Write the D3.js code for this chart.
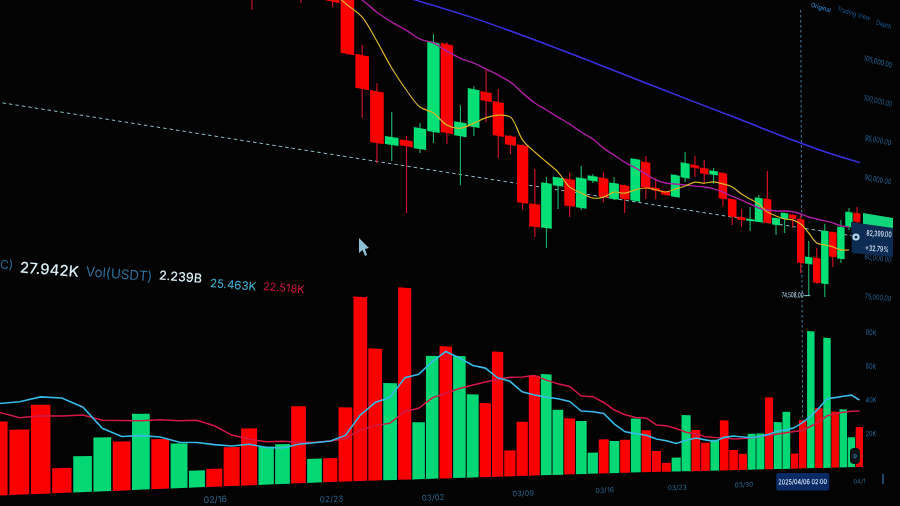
<!DOCTYPE html>
<html>
<head>
<meta charset="utf-8">
<script src="https://cdn.jsdelivr.net/npm/d3@7/dist/d3.min.js"></script>
<style>
html,body{margin:0;padding:0;background:#030303;overflow:hidden}
svg{display:block;filter:blur(0.5px)}
text{font-family:Inter,Roboto,sans-serif}
</style>
</head>
<body>
<svg id="c" width="900" height="506"></svg>
<script>
// ---------- volume pane data (thousands), bars 1..68 ----------
const volumes=[26.5,23.5,32.5,9.2,13.4,20.3,18.6,29.1,19.3,17.5,6.7,7.1,15.6,23.0,15.5,16.4,31.9,10.0,
10.1,31.5,78.9,57.0,42.2,84.3,25.2,54.8,59.3,55.2,37.9,34.0,57.9,12.1,25.4,47.3,48.1,31.2,27.1,25.8,10.3,16.8,15.9,16.5,27.2,21.3,10.7,4.6,7.2,29.2,21.5,14.8,16.4,26.7,10.8,8.7,19.6,19.7,39.6,26.0,31.8,8.4,27.1,77.7,34.2,74.6,32.3,33.7,17.5,23.5];
const volDirs="rrrrggrgrggrrrggrg"+"rrrrgrggrggrrrrrggrggrgrgrrrggrrgrrrggrggrrgrgrggr";
const volMaFast=[32.9,33.6,35.4,35.0,31.6,23.7,20.5,20.7,20.1,17.9,17.7,16.7,16.0,16.6,15.1,14.8,16.2,16.7,17.3,19.6,28.3,33.7,36.1,44.8,46.4,52.2,57.0,54.3,51.1,50.1,45.8,44.3,39.5,38.1,37.2,36.5,35.3,30.7,30.4,29.6,24.3,20.5,19.6,18.8,16.8,15.9,14.5,16.1,17.3,16.3,15.4,17.6,18.3,17.8,17.4,18.1,19.3,21.1,21.7,23.0,26.0,29.5,34.2,39.6,40.4,41.3,42.1,39.4];
const volMaSlow=[30.0,27.8,28.5,28.4,28.7,26.7,26.6,26.4,26.7,26.3,26.4,24.2,20.4,18.6,17.5,17.5,17.0,16.9,17.3,18.3,21.9,23.8,24.8,29.9,31.4,36.1,38.2,40.5,42.2,43.7,45.1,46.2,46.5,47.3,45.3,43.7,42.5,38.0,37.8,35.0,31.3,29.0,27.7,27.4,24.0,23.6,22.2,20.3,19.4,17.9,17.5,17.4,16.7,17.0,17.4,18.1,18.7,19.4,20.1,20.8,21.4,23.8,26.3,29.8,31.2,32.0,32.7,32.9];

// ---------- candles, starting at bar 14 ----------
const candleStart=14;
const opens=[96800,97300,97800,97800,97800,98000,98200,92730,89670,84915,85580,84940,86760,95410,86790,87890,91530,90780,87620,86930,81180,78890,83330,84220,81400,84375,84860,82805,84455,82925,87300,84675,84490,83990,86255,87880,87720,87135,87535,84730,82810,82490,82520,85360,82445,83300,83940,83580,78285,79125,76075,82570,79365,83460,85350];
const closes=[95950,98000,98500,97000,98500,97000,92560,89620,84880,85660,85020,86920,95330,86870,88140,91590,90650,87420,86720,81115,78860,83470,84200,81430,84520,84900,82860,84500,82960,87440,84490,84350,84050,86415,87920,87545,87050,87590,84575,82670,82470,82725,85320,82540,83270,84010,83460,78290,79130,76085,82560,79500,83325,85330,84225];
const highs=[97500,98500,99000,98500,99000,98500,99000,93650,90410,87980,85950,87400,96090,95600,89780,91885,93790,92060,87700,87000,84715,84080,84250,84840,85760,85100,85490,85140,84500,87500,87950,85765,84500,86500,89140,88885,88620,87930,87600,84750,83735,84120,85670,88650,83300,84050,84000,84060,81065,80340,83420,82600,84190,85830,86105];
const lows=[94750,97000,97500,96230,97500,96500,92500,86970,83030,83430,78740,84560,85720,85820,82050,87015,88590,85240,85830,80410,77850,76860,80975,80300,81190,84165,82330,82700,81470,82800,83300,83480,84000,83950,85810,86540,86040,86115,83780,81750,81660,81330,82500,82500,81265,81630,82380,77090,74415,76000,74480,78265,78870,83090,84000];

// ---------- moving averages on the price pane ----------
const yellowStart=19;
const maYellow=[97850,97015,96210,94280,92075,90265,88910,88575,87640,87560,88280,89030,89490,89510,87430,86430,85605,84765,83390,82960,82600,82860,83550,83600,84110,84490,84460,84380,84870,85370,85980,86040,86340,86280,86110,85465,85045,84620,83830,83510,83300,83340,82980,82030,80950,80850,80730,80480,80600];
const magentaStart=20;
const maMagenta=[98200,97765,96955,96355,95885,95330,95240,94735,94320,94125,93790,93445,92990,92145,91380,90895,90395,89890,89295,88770,88020,87470,86910,86475,86000,85550,85365,85420,85480,85535,85590,85550,85370,85020,84770,84465,84150,84065,84100,84245,84300,84180,83965,83870,83785,83680,83450,83460];
const blueBars=[24,29,34,39,44,49,54,59,64,68.4];
const maBlue=[98975,98510,97744,96820,95850,94915,93997,93038,92231,91743];
const trendBars=[1,68.6];
const trendPrices=[83560,82400];

// ---------- tick labels ----------
const priceTicks=[105000,100000,95000,90000,80000,75000];
const volTicks=[80,60,40,20];
const dateBars=[12,19,26,33,40,47,54,68];
const dateLabels=["02/16","02/23","03/02","03/09","03/16","03/23","03/30","04/1"];
const hoverBar=61, hoverLabel="2025/04/06 02:00";
const lowBar=62.3, lowPrice=74508;
const lastPrice=82399, lastChange="+32.79%";
const legend=[["C)",0,"#2a6c96"],["27.942K",20,"#dbeef7"],["Vol(USDT)",86,"#2f6f99"],["2.239B",159,"#dbeef7"],["25.463K",210,"#3fb6dc"],["22.518K",263,"#d01840"]];
const tabs=["Original","Trading View","Depth"];

// ---------- scales (the photo's perspective vanishes toward the right) ----------
const VX=2200, VY=423, REFX=860;
const xScale=d3.scaleLinear()
  .domain([1,2,5,10,15,19,24,29,34,39,44,49,54,59,64,68,69])
  .range([-2.5,19.5,83,179.5,266.5,330.5,405,473,534.5,593,646.5,696,743,786.5,827,859.5,867]);
const lean=d3.scaleLinear().domain([346,803]).range([2,-2]);
const xP=b=>xScale(b)+lean(xScale(b));
const persp=x=>(VX-x)/(VX-REFX);
const priceY=d3.scaleLinear().domain([75000,105000]).range([296,57]);
const py=(x,p)=>VY-(VY-priceY(p))*persp(x);
const volBase=d3.scaleLinear().domain([0,330,615,860]).range([495.5,482,473,467]);
const volK=d3.scaleLinear().domain([0,80]).range([0,136]);
const vy=(x,v)=>volBase(x)-volK(v)*persp(x);
const tilt=(x,y)=>Math.atan2(VY-y,VX-x)*180/Math.PI;

const svg=d3.select("#c");
const GREEN="#02df74", RED="#fb0000", GREENV="#03d875", BW=0.46;
const quad=(pts)=>"M"+pts.map(p=>p.join(",")).join("L")+"Z";

function label(t,x,y,o={}){
  svg.append("text").text(t)
    .attr("transform",`translate(${x},${y}) rotate(${o.rot===undefined?tilt(x,y):o.rot}) scale(${o.sx||1},1)`)
    .attr("text-anchor",o.anchor||"middle").attr("dominant-baseline","central")
    .attr("font-size",o.size||7).attr("font-weight",o.weight||400).attr("fill",o.fill||"#1f5a88")
    .attr("font-family",o.family||null);
}

// dashed trend line and crosshair
const lineP=d3.line().x(d=>xP(d[0])).y(d=>py(xP(d[0]),d[1]));
svg.append("path").attr("d",lineP(d3.zip(trendBars,trendPrices)))
  .attr("fill","none").attr("stroke","#8fbccb").attr("stroke-width",1).attr("stroke-dasharray","3.5 3");
svg.append("line").attr("x1",xP(hoverBar)).attr("x2",xScale(hoverBar)).attr("y1",10).attr("y2",440)
  .attr("stroke","#3f7ea8").attr("stroke-width",1).attr("stroke-dasharray","2.5 2.5");

// candles
const candles=opens.map((o,i)=>({bar:candleStart+i,o,c:closes[i],h:highs[i],l:lows[i]}));
svg.append("g").selectAll("line").data(candles).join("line")
  .attr("x1",d=>xP(d.bar)).attr("x2",d=>xP(d.bar))
  .attr("y1",d=>py(xP(d.bar),d.h)).attr("y2",d=>py(xP(d.bar),d.l))
  .attr("stroke",d=>d.c>=d.o?"#1da865":"#cc1226").attr("stroke-width",1.2);
svg.append("g").selectAll("path").data(candles).join("path")
  .attr("fill",d=>d.c>=d.o?GREEN:RED)
  .attr("d",d=>{
    const a=xP(d.bar-BW),b=xP(d.bar+BW);
    return quad([[a,py(a,d.o)],[b,py(b,d.o)],[b,py(b,d.c)],[a,py(a,d.c)]]);
  });

// price moving averages
const smooth=(start,vals)=>d3.line().curve(d3.curveCatmullRom.alpha(0.5))(vals.map((v,i)=>{const x=xP(start+i);return [x,py(x,v)];}));
svg.append("path").attr("d",smooth(magentaStart,maMagenta)).attr("fill","none").attr("stroke","#ad1fa3").attr("stroke-width",1.4);
svg.append("path").attr("d",d3.line().curve(d3.curveCatmullRom)(blueBars.map((b,i)=>{const x=xP(b);return [x,py(x,maBlue[i])];}))).attr("fill","none").attr("stroke","#3a32e0").attr("stroke-width",1.5);
svg.append("path").attr("d",smooth(yellowStart,maYellow)).attr("fill","none").attr("stroke","#dcb228").attr("stroke-width",1.2);

// volume bars
svg.append("g").selectAll("path").data(volumes).join("path")
  .attr("fill",(d,i)=>volDirs[i]==="g"?GREENV:RED)
  .attr("d",(d,i)=>{
    const b=i+1,a=xScale(b-BW),c=xScale(b+BW);
    return quad([[a,vy(a,0)],[c,vy(c,0)],[c,vy(c,d)],[a,vy(a,d)]]);
  });

// volume moving averages
const volLine=vals=>d3.line()(vals.map((v,i)=>{const x=xScale(i+1);return [x,vy(x,v)];}));
svg.append("path").attr("d",volLine(volMaSlow)).attr("fill","none").attr("stroke","#d2184a").attr("stroke-width",1.5);
svg.append("path").attr("d",volLine(volMaFast)).attr("fill","none").attr("stroke","#37bbe6").attr("stroke-width",1.6);

// legend row
legend.forEach(([t,x,f],i)=>{
  const yy=[264,267,271,275,283,286][i];
  const size=i===0?12:i===1?15:i===2?13.5:i===3?12.5:i===4?11.5:11;
  label(t,x,yy,{anchor:"start",size,fill:f,rot:4.5,weight:i===1||i===3?500:400});
});

// price axis
priceTicks.forEach(p=>{
  const x=878,y=py(x,p);
  label(d3.format(",.2f")(p),x,y,{size:7.5,sx:0.74,fill:"#22669a"});
});
// volume axis
volTicks.forEach(v=>{
  const x=871;
  label(v+"K",x,vy(x,v)+1,{size:7.5,sx:0.74,fill:"#22669a"});
});
// date axis
dateBars.forEach((b,i)=>{
  const x=xScale(b);
  const y=Math.min(volBase(x)+14*persp(x),499);
  label(dateLabels[i],x+(i===7?0:1),y,{size:6*persp(x),fill:"#2a6790"});
});
// hover date box
const hx=xScale(hoverBar);
svg.append("rect").attr("x",hx-26.5).attr("y",473).attr("width",53).attr("height",17.5).attr("rx",2).attr("fill","#0a2a66");
label(hoverLabel,hx,482,{size:7.2,sx:0.76,fill:"#d6e8f5",rot:-0.5,weight:500});

// tabs at top
[[821,7,"#2a82c4"],[854,13,"#1a5a94"],[884,24,"#1a5f98"]].forEach(([x,y,f],i)=>label(tabs[i],x,y,{size:6.5,sx:0.85,fill:f,weight:i===0?500:400}));

// low marker
const lx=xScale(lowBar);
svg.append("line").attr("x1",lx-9).attr("x2",lx-3).attr("y1",py(lx,lowPrice)).attr("y2",py(lx,lowPrice)).attr("stroke","#9cc6dc").attr("stroke-width",1);
label(d3.format(",.2f")(lowPrice),lx-9.5,py(lx,lowPrice)-1,{anchor:"end",size:7,sx:0.65,fill:"#a8d4ea",rot:1,weight:500});

// last price tag + tooltip
svg.append("path").attr("d",quad([[863,213],[893,218],[893,232],[863,228]])).attr("fill","#12d67c");
svg.append("path").attr("d",quad([[851,222],[893,228],[893,257],[852,253]])).attr("fill","#0c2c54");
label(d3.format(",.2f")(lastPrice),879,234,{size:7.5,sx:0.68,fill:"#d4e6f4",rot:4,weight:500});
label(lastChange,877,249,{size:7.5,sx:0.72,fill:"#d4e6f4",rot:4,weight:500});
svg.append("circle").attr("cx",856).attr("cy",237).attr("r",3.6).attr("fill","#b8d8ea");
svg.append("circle").attr("cx",856).attr("cy",237).attr("r",1.5).attr("fill","#0c2c54");

// scroll button and cursor glyphs
svg.append("rect").attr("x",850).attr("y",448).attr("width",10).attr("height",16).attr("rx",4).attr("fill","#081418");
label("»",855,455,{size:9,fill:"#3c7ea6",rot:0});
label("I",883,479,{size:13,fill:"#2a6ea6",rot:0,family:"Liberation Serif"});

// mouse pointer
svg.append("path").attr("transform","translate(359,238)").attr("d","M0,0L0,15L3.5,12L6,18L8,17L6,11L10,10Z").attr("fill","#8fbfd4");
</script>
</body>
</html>
